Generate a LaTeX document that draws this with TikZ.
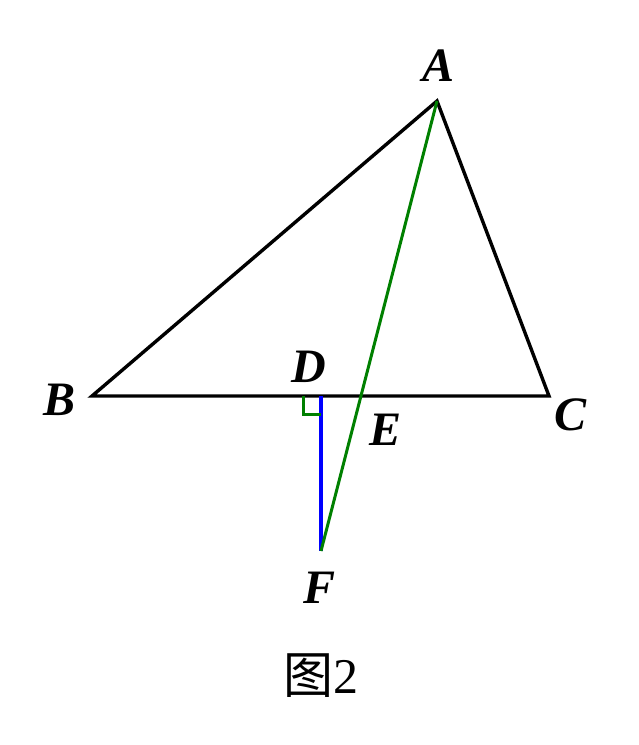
\documentclass[tikz,border=0pt]{standalone}
\usepackage{fontspec}
\setmainfont{Liberation Serif}
\newfontfamily\cjk{Noto Sans CJK SC}[BoldFont={Noto Sans CJK SC Bold}]
\begin{document}
\begin{tikzpicture}[x=1pt,y=-1pt,
  lbl/.style={font=\fontsize{48}{50}\selectfont\bfseries\itshape, inner sep=0pt},
  edge/.style={line width=3.4pt, line join=miter},
  grn/.style={draw={rgb,255:red,0;green,128;blue,0}, line width=3pt},
  blu/.style={draw={rgb,255:red,0;green,0;blue,255}, line width=3.4pt}]
\useasboundingbox (0,0) rectangle (638,745);
\coordinate (A) at (437,101);
\coordinate (B) at (92,396);
\coordinate (C) at (549,396);
\coordinate (D) at (321,396);
\coordinate (F) at (321,551);
\coordinate (E) at (361.3,396);
\coordinate (R1) at (303,396);
\coordinate (R2) at (303,414);
\coordinate (R3) at (321,414);
\draw[edge] (A) -- (B) -- (C) -- cycle;
\draw[blu] (D) -- (F);
\draw[grn] (R1) -- (R2) -- (R3);
\draw[grn] (A) -- (F);
\node[lbl] (lA) at (439,66) {A};
\node[lbl] (lB) at (60,400) {B};
\node[lbl] (lC) at (571,415) {C};
\node[lbl] (lD) at (309,367) {D};
\node[lbl] (lE) at (386,430) {E};
\node[lbl] (lF) at (320,588) {F};
\node[inner sep=0pt, font=\fontsize{50}{52}\selectfont] (cap) at (321,676) {{\cjk 图}2};
\end{tikzpicture}
\end{document}
